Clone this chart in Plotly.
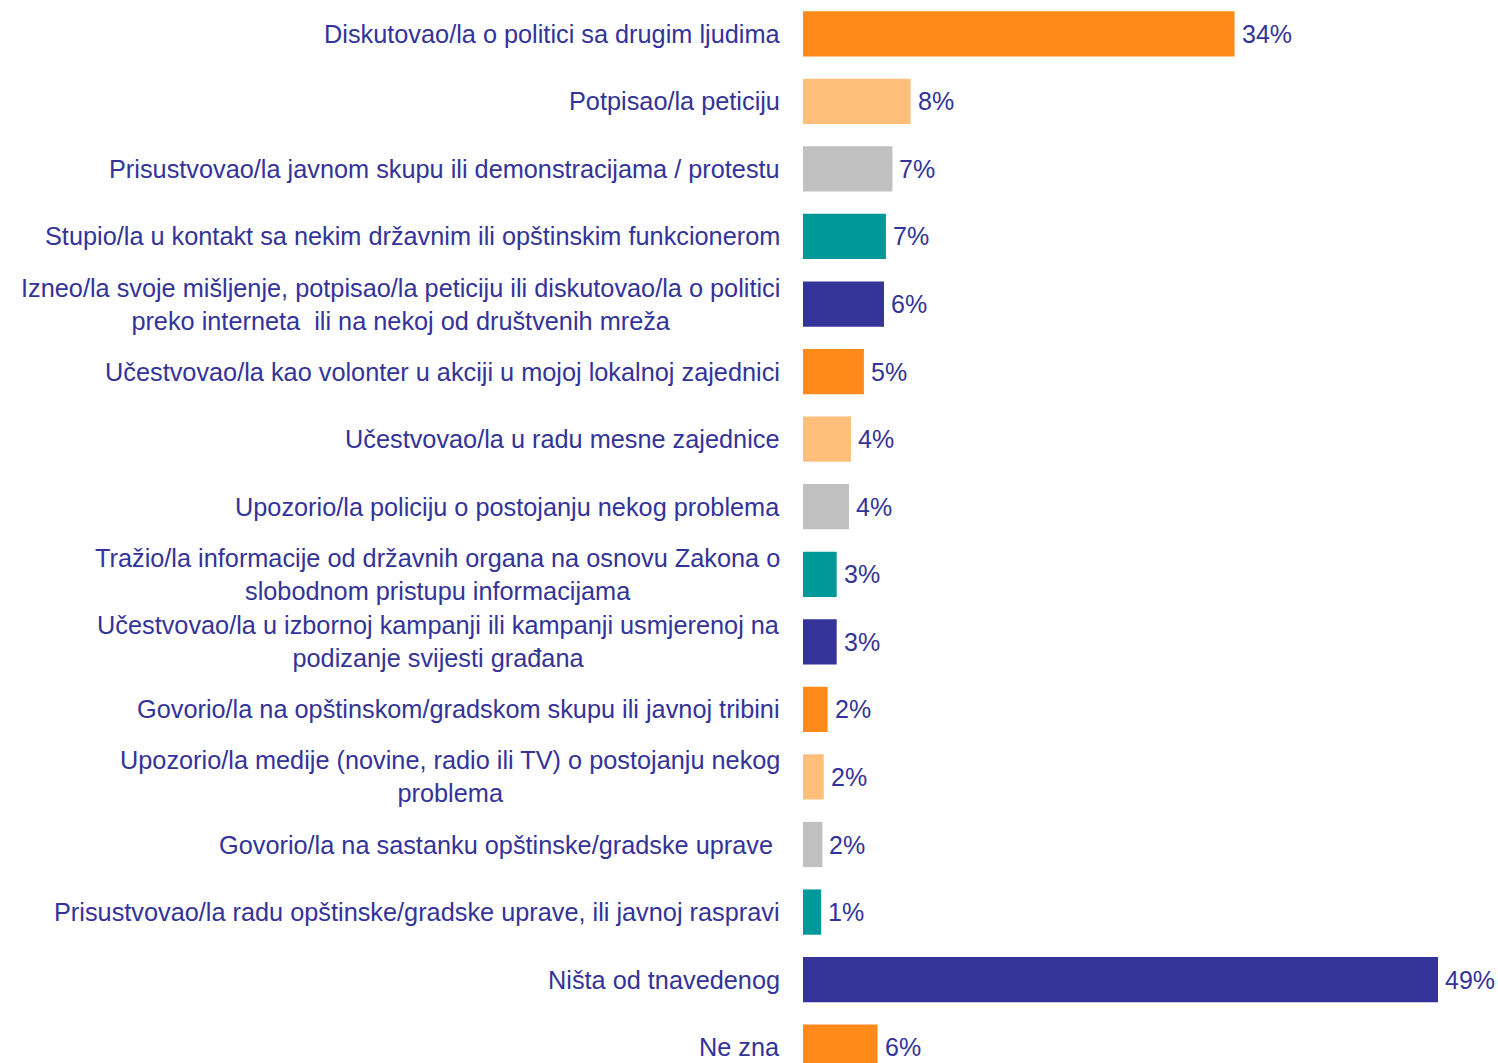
import plotly.graph_objects as go

categories = [
    "Diskutovao/la o politici sa drugim ljudima",
    "Potpisao/la peticiju",
    "Prisustvovao/la javnom skupu ili demonstracijama / protestu",
    "Stupio/la u kontakt sa nekim državnim ili opštinskim funkcionerom",
    "Izneo/la svoje mišljenje, potpisao/la peticiju ili diskutovao/la o politici<br>preko interneta  ili na nekoj od društvenih mreža",
    "Učestvovao/la kao volonter u akciji u mojoj lokalnoj zajednici",
    "Učestvovao/la u radu mesne zajednice",
    "Upozorio/la policiju o postojanju nekog problema",
    "Tražio/la informacije od državnih organa na osnovu Zakona o<br>slobodnom pristupu informacijama",
    "Učestvovao/la u izbornoj kampanji ili kampanji usmjerenoj na<br>podizanje svijesti građana",
    "Govorio/la na opštinskom/gradskom skupu ili javnoj tribini",
    "Upozorio/la medije (novine, radio ili TV) o postojanju nekog<br>problema",
    "Govorio/la na sastanku opštinske/gradske uprave\u00a0",
    "Prisustvovao/la radu opštinske/gradske uprave, ili javnoj raspravi",
    "Ništa od tnavedenog",
    "Ne zna",
]
values = [33.3, 8.3, 6.9, 6.4, 6.25, 4.7, 3.7, 3.55, 2.6, 2.6, 1.9, 1.6, 1.5, 1.4, 49.0, 5.75]
value_labels = ["34%", "8%", "7%", "7%", "6%", "5%", "4%", "4%", "3%", "3%",
                "2%", "2%", "2%", "1%", "49%", "6%"]
palette = ["#FF8A1A", "#FFBF7A", "#C0C0C0", "#009999", "#333399"]

TEXT_COLOR = "#333399"
FONT = "Liberation Sans, Arial, sans-serif"

positions = list(range(len(categories)))
colors = [palette[i % len(palette)] for i in positions]

fig = go.Figure()
fig.add_trace(go.Bar(
    x=values, y=positions, orientation="h",
    marker=dict(color=colors, line=dict(width=0)),
    width=0.67, hoverinfo="skip", showlegend=False,
))

for p, cat, v, lab in zip(positions, categories, values, value_labels):
    fig.add_annotation(
        x=0, xref="paper", y=p, yref="y", text=cat,
        xanchor="right", yanchor="middle", align="center", xshift=-21,
        showarrow=False, font=dict(family=FONT, size=25.3, color=TEXT_COLOR),
    )
    fig.add_annotation(
        x=v, xref="x", y=p, yref="y", text=lab,
        xanchor="left", yanchor="middle", xshift=5,
        showarrow=False, font=dict(family=FONT, size=25, color=TEXT_COLOR),
    )

fig.update_layout(
    width=1498, height=1063,
    margin=dict(l=803, r=0, t=0, b=0),
    paper_bgcolor="white", plot_bgcolor="white",
    xaxis=dict(range=[0, 53.63], visible=False, fixedrange=True),
    yaxis=dict(range=[15.234, -0.5], visible=False, fixedrange=True),
    bargap=0.33,
)

fig.write_html(
    "out.html",
    config={"displayModeBar": False},
    post_script="document.body.style.margin='0';document.body.style.overflow='hidden';",
)
